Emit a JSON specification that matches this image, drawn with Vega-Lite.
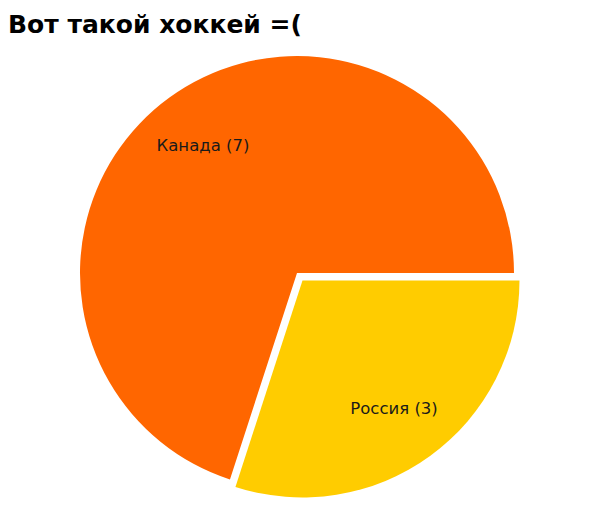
{
  "$schema": "https://vega.github.io/schema/vega-lite/v6.json",
  "background": "white",
  "autosize": "none",
  "padding": {"top": 44, "left": 0, "right": 6, "bottom": 28},
  "width": 594,
  "height": 458,
  "title": {
    "text": "Вот такой хоккей =(",
    "anchor": "start",
    "frame": "group",
    "font": "DejaVu Sans",
    "fontSize": 25,
    "fontWeight": "bold",
    "color": "black",
    "dx": 8,
    "offset": 6
  },
  "data": {
    "values": [
      {"country": "Россия", "count": 3, "rank": 1, "label": "Россия (3)", "explode": 1},
      {"country": "Канада", "count": 7, "rank": 2, "label": "Канада (7)", "explode": 0}
    ]
  },
  "encoding": {
    "theta": {"field": "count", "type": "quantitative", "stack": true, "scale": {"range": [1.5708, 7.854]}},
    "order": {"field": "rank", "type": "quantitative"},
    "color": {
      "field": "country",
      "type": "nominal",
      "scale": {"domain": ["Канада", "Россия"], "range": ["#ff6600", "#ffcc00"]},
      "legend": null
    }
  },
  "layer": [
    {
      "mark": {"type": "arc", "outerRadius": 217},
      "encoding": {
        "opacity": {"condition": {"test": "datum.explode == 1", "value": 0}, "value": 1}
      }
    },
    {
      "mark": {"type": "arc", "outerRadius": 217, "xOffset": 5.5, "yOffset": 7.5},
      "encoding": {
        "opacity": {"condition": {"test": "datum.explode == 1", "value": 1}, "value": 0}
      }
    },
    {
      "mark": {"type": "text", "radius": 160, "font": "DejaVu Sans", "fontSize": 16.5, "yOffset": 2},
      "encoding": {
        "text": {"field": "label", "type": "nominal"},
        "color": {"value": "#1a1a1a"},
        "opacity": {"condition": {"test": "datum.explode == 1", "value": 0}, "value": 1}
      }
    },
    {
      "mark": {"type": "text", "radius": 160, "font": "DejaVu Sans", "fontSize": 16.5, "xOffset": 3, "yOffset": 6.5},
      "encoding": {
        "text": {"field": "label", "type": "nominal"},
        "color": {"value": "#1a1a1a"},
        "opacity": {"condition": {"test": "datum.explode == 1", "value": 1}, "value": 0}
      }
    }
  ]
}
